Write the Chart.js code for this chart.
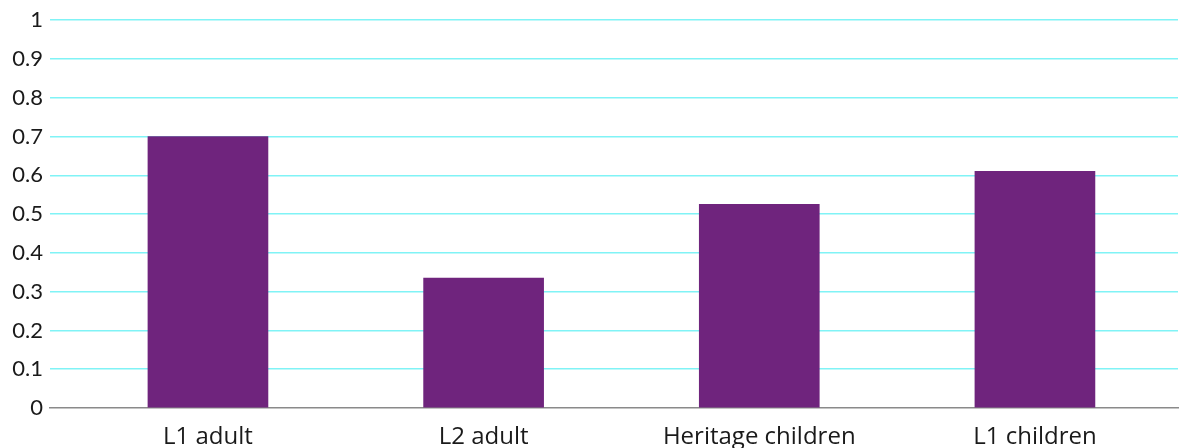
<!DOCTYPE html>
<html>
<head>
<meta charset="utf-8">
<script src="https://cdn.jsdelivr.net/npm/chart.js@4/dist/chart.umd.min.js"></script>
<style>
  html, body { margin: 0; padding: 0; background: #fff; }
  #wrap { width: 1180px; height: 448px; position: relative; }
</style>
</head>
<body>
<div id="wrap"><canvas id="chart"></canvas></div>
<script>
const categories = ["L1 adult", "L2 adult", "Heritage children", "L1 children"];
const values = [0.70, 0.335, 0.525, 0.61];
const yTicks = [0, 0.1, 0.2, 0.3, 0.4, 0.5, 0.6, 0.7, 0.8, 0.9, 1];

const canvas = document.getElementById("chart");

new Chart(canvas, {
    type: "bar",
    data: {
        datasets: [{
            data: values.map((v, i) => ({ x: i, y: v })),
            backgroundColor: "#6f247d",
            borderWidth: 0,
            barThickness: 120
        }]
    },
    options: {
        responsive: true,
        maintainAspectRatio: false,
        animation: false,
        layout: { padding: { top: 10, right: 2, left: 0, bottom: 0 } },
        plugins: {
            legend: { display: false },
            tooltip: { enabled: false }
        },
        scales: {
            x: {
                type: "linear",
                offset: false,
                min: -0.573,
                max: 3.519,
                afterBuildTicks: (axis) => {
                    axis.ticks = categories.map((c, i) => ({ value: i }));
                },
                afterFit: (axis) => { axis.height = 40; },
                grid: { display: false, drawTicks: false, offset: false },
                border: { display: true, color: "#8a8a8a", width: 1.5 },
                ticks: {
                    padding: 15,
                    color: "#1a1a1a",
                    font: { family: "Open Sans", size: 24 },
                    maxRotation: 0,
                    autoSkip: false,
                    callback: (v) => categories[v]
                }
            },
            y: {
                min: 0,
                max: 1,
                afterBuildTicks: (axis) => {
                    axis.ticks = yTicks.map(v => ({ value: v }));
                },
                afterFit: (axis) => { axis.width = 50; },
                grid: {
                    color: (ctx) => ctx.tick.value === 0 ? "rgba(0,0,0,0)" : "#80f3f6",
                    lineWidth: 1.5,
                    drawTicks: false
                },
                border: { display: false },
                ticks: {
                    padding: 7,
                    color: "#1a1a1a",
                    font: { family: "Lato", size: 22 },
                    callback: (v) => String(Math.round(v * 10) / 10)
                }
            }
        }
    }
});
</script>
</body>
</html>
